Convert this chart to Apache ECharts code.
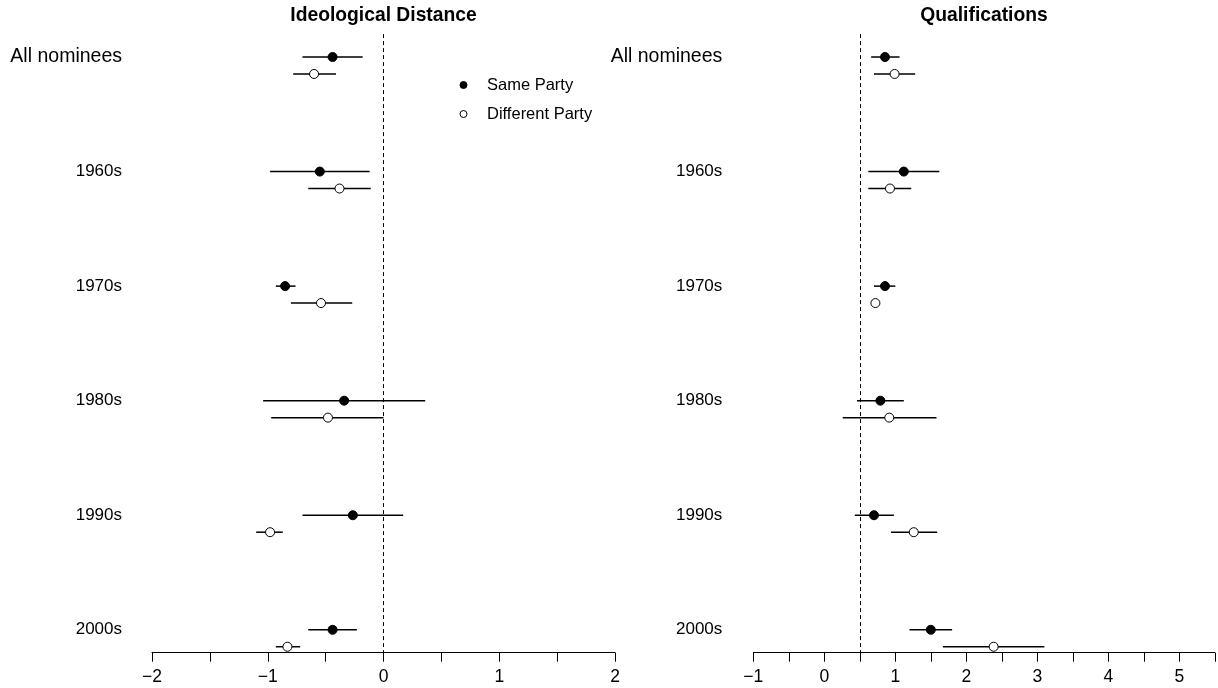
<!DOCTYPE html>
<html>
<head>
<meta charset="utf-8">
<script src="https://cdn.jsdelivr.net/npm/echarts@6/dist/echarts.min.js"></script>
<style>html,body{margin:0;padding:0;background:#fff}#c{width:1218px;height:688px}</style>
</head>
<body>
<div id="c"></div>
<script>
// ---- data ----
const groups = ['All nominees', '1960s', '1970s', '1980s', '1990s', '2000s'];

const ideoSame   = [-0.44, -0.55, -0.85, -0.34, -0.265, -0.44];
const ideoSameLo = [-0.70, -0.98, -0.93, -1.04, -0.70, -0.65];
const ideoSameHi = [-0.18, -0.12, -0.76,  0.36,  0.17, -0.23];
const ideoDiff   = [-0.60, -0.38, -0.54, -0.48, -0.98, -0.83];
const ideoDiffLo = [-0.78, -0.65, -0.80, -0.97, -1.10, -0.93];
const ideoDiffHi = [-0.41, -0.11, -0.27,  0.00, -0.87, -0.72];

const qualSame   = [0.855, 1.12, 0.855, 0.79, 0.70, 1.50];
const qualSameLo = [0.66, 0.62, 0.70, 0.46, 0.43, 1.20];
const qualSameHi = [1.06, 1.62, 1.00, 1.12, 0.98, 1.80];
const qualDiff   = [0.99, 0.925, 0.72, 0.915, 1.26, 2.385];
const qualDiffLo = [0.70, 0.62, 0.70, 0.26, 0.94, 1.67];
const qualDiffHi = [1.28, 1.225, 0.74, 1.58, 1.59, 3.10];

const leftTicks = [-2, -1, 0, 1, 2];
const rightTicks = [-1, 0, 1, 2, 3, 4, 5];
const diffOffset = 0.148;

// ---- chart ----
const FONT = '"Liberation Sans", Arial, Helvetica, sans-serif';
const chart = echarts.init(document.getElementById('c'), null, {renderer: 'canvas'});

function fmtTick(v) {
  if (Math.abs(v - Math.round(v)) > 1e-9) return '';
  const r = Math.round(v);
  return r < 0 ? '\u2212' + Math.abs(r) : String(r);
}

function xAxisFor(gi, min, max) {
  return {
    type: 'value', gridIndex: gi, min: min, max: max, interval: 0.5,
    axisLine: {show: true, onZero: false, lineStyle: {color: '#000', width: 1}},
    axisTick: {show: true, length: 9, lineStyle: {color: '#000', width: 1}},
    axisLabel: {formatter: fmtTick, color: '#000', fontSize: 17.5, fontFamily: FONT, margin: 15, showMinLabel: true, showMaxLabel: true, hideOverlap: false},
    splitLine: {show: false}
  };
}

function yAxisFor(gi, margin) {
  return {
    type: 'value', gridIndex: gi, inverse: true, min: -0.2, max: 5.2,
    axisLine: {show: false}, axisTick: {show: false}, splitLine: {show: false},
    axisLabel: {
      show: true, margin: margin, customValues: [0, 1, 2, 3, 4, 5],
      formatter: function (v) {
        const i = Math.round(v);
        return i === 0 ? '{big|' + groups[i] + '}' : '{d|' + groups[i] + '}';
      },
      rich: {
        big: {fontSize: 19.5, fontFamily: FONT, color: '#000'},
        d: {fontSize: 17, fontFamily: FONT, color: '#000'}
      }
    }
  };
}

function barData(lo, hi, off) {
  return lo.map((l, i) => [l, hi[i], i + off]);
}
function ptData(v, off) {
  return v.map((x, i) => [x, i + off]);
}

function errSeries(gi, lo, hi, off, name) {
  return {
    type: 'custom', name: name, xAxisIndex: gi, yAxisIndex: gi, clip: false, z: 2,
    encode: {x: [0, 1], y: 2},
    data: barData(lo, hi, off),
    renderItem: function (params, api) {
      const a = api.coord([api.value(0), api.value(2)]);
      const b = api.coord([api.value(1), api.value(2)]);
      return {type: 'line', shape: {x1: a[0], y1: a[1], x2: b[0], y2: b[1]},
              style: {stroke: '#000', lineWidth: 1.5}};
    }
  };
}

function ptSeries(gi, v, off, name, filled) {
  return {
    type: 'scatter', name: name, xAxisIndex: gi, yAxisIndex: gi, z: 5,
    symbol: 'circle', symbolSize: 9,
    itemStyle: filled ? {color: '#000', borderColor: '#000', borderWidth: 1, opacity: 1}
                      : {color: '#fff', borderColor: '#000', borderWidth: 1, opacity: 1},
    data: ptData(v, off)
  };
}

function refLine(gi, x) {
  return {
    type: 'line', xAxisIndex: gi, yAxisIndex: gi, data: [], silent: true,
    markLine: {silent: true, symbol: ['none', 'none'], label: {show: false},
      lineStyle: {color: '#000', type: [4, 3], width: 1},
      data: [{xAxis: x}]}
  };
}

const option = {
  animation: false,
  backgroundColor: '#fff',
  title: [
    {text: 'Ideological Distance', left: 383.5, top: 6.5, padding: 0, textAlign: 'center',
     textStyle: {fontSize: 19.3, fontWeight: 'bold', fontFamily: FONT, color: '#000'}},
    {text: 'Qualifications', left: 984, top: 6.5, padding: 0, textAlign: 'center',
     textStyle: {fontSize: 19.3, fontWeight: 'bold', fontFamily: FONT, color: '#000'}}
  ],
  legend: {
    orient: 'vertical', left: 459.5, top: 76, padding: 0, itemWidth: 7, itemHeight: 7, itemGap: 11,
    textStyle: {fontSize: 16.5, fontFamily: FONT, color: '#000', lineHeight: 18, padding: [0, 0, 0, 15]},
    data: [
      {name: 'Same Party', icon: 'circle', itemStyle: {color: '#000', borderColor: '#000', borderWidth: 1}},
      {name: 'Different Party', icon: 'circle', itemStyle: {color: '#fff', borderColor: '#000', borderWidth: 1}}
    ],
    selectedMode: false
  },
  grid: [
    {left: 152, width: 463, top: 34.1, height: 618.6},
    {left: 753.3, width: 461.5, top: 34.1, height: 618.6}
  ],
  xAxis: [xAxisFor(0, -2, 2), xAxisFor(1, -1, 5.5)],
  yAxis: [yAxisFor(0, 30), yAxisFor(1, 31)],
  series: [
    refLine(0, 0),
    refLine(1, 0.5),
    errSeries(0, ideoSameLo, ideoSameHi, 0, 'Same Party'),
    errSeries(0, ideoDiffLo, ideoDiffHi, diffOffset, 'Different Party'),
    ptSeries(0, ideoSame, 0, 'Same Party', true),
    ptSeries(0, ideoDiff, diffOffset, 'Different Party', false),
    errSeries(1, qualSameLo, qualSameHi, 0, 'Same Party'),
    errSeries(1, qualDiffLo, qualDiffHi, diffOffset, 'Different Party'),
    ptSeries(1, qualSame, 0, 'Same Party', true),
    ptSeries(1, qualDiff, diffOffset, 'Different Party', false)
  ]
};
chart.setOption(option);
</script>
</body>
</html>
